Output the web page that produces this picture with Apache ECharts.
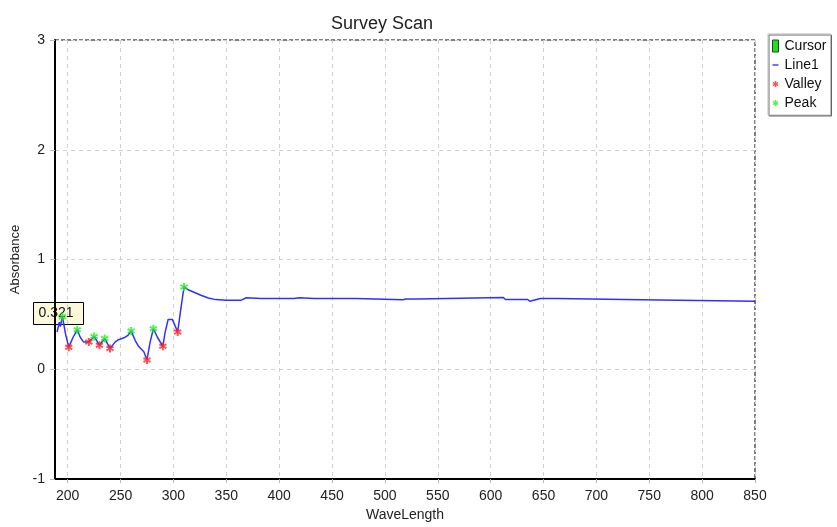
<!DOCTYPE html>
<html>
<head>
<meta charset="utf-8">
<script src="https://cdn.jsdelivr.net/npm/echarts@6/dist/echarts.min.js"></script>
<style>html,body{margin:0;padding:0;background:#fff}#c{width:837px;height:527px}</style>
</head>
<body>
<div id="c"></div>
<script>
const waveLength = [190,192,193,195,198,201,205,209,212,215,220,225,230,235,240,245,248,254,257,260,264,267,272,275,278,281,285,290,292,295,299,304,307,310,315,320,326,333,340,350,364,369,383,414,419,433,473,474,517,520,531,532,612,614,635,637,638,647,663,664,742,743,850];
const absorbance = [0.34,0.43,0.39,0.48,0.32,0.20,0.29,0.36,0.29,0.25,0.25,0.30,0.22,0.28,0.19,0.25,0.27,0.29,0.31,0.35,0.26,0.21,0.16,0.085,0.25,0.37,0.29,0.21,0.33,0.455,0.455,0.34,0.55,0.75,0.72,0.70,0.675,0.65,0.635,0.63,0.63,0.652,0.645,0.645,0.652,0.645,0.645,0.633,0.633,0.64,0.64,0.655,0.655,0.636,0.636,0.62,0.636,0.645,0.645,0.633,0.633,0.62,0.62];
const valleyX = [201,220,230,240,275,290,304];
const valleyY = [0.20,0.25,0.22,0.19,0.085,0.21,0.34];
const peakX = [195,209,225,235,260,281,310];
const peakY = [0.48,0.36,0.30,0.28,0.35,0.37,0.75];
const xTicks = [200,250,300,350,400,450,500,550,600,650,700,750,800,850];
const cursorText = '0.321';

const FONT = 'Arial, "Liberation Sans", sans-serif';
const STAR = 'path://M3,0 L5,0 L5,2.5 L7,1 L8,3 L5.5,4 L8,5 L7,7 L5,5.5 L5,8 L3,8 L3,5.5 L1,7 L0,5 L2.5,4 L0,3 L1,1 L3,2.5 Z';
const zip = (a, b) => a.map((v, i) => [v, b[i]]);

const chart = echarts.init(document.getElementById('c'));
chart.setOption({
  animation: false,
  title: { text: 'Survey Scan', left: 326, top: 10, textStyle: { fontSize: 18, fontWeight: 'normal', color: '#222', fontFamily: FONT } },
  grid: { left: 55, right: 82, top: 40, bottom: 47, show: true, borderColor: '#000', borderWidth: 1, borderType: [4, 2] },
  legend: {
    orient: 'vertical', left: 768, top: 34, padding: [5, 4, 5, 4],
    itemWidth: 6, itemHeight: 12, itemGap: 5,
    backgroundColor: '#fff', borderColor: '#bbb', borderWidth: 1,
    shadowColor: '#666', shadowOffsetX: 1, shadowOffsetY: 1, shadowBlur: 0,
    textStyle: { fontSize: 14, color: '#111', fontFamily: FONT, padding: [0, 0, 0, 1] },
    data: [
      { name: 'Cursor', icon: 'path://M0,0 L5,0 L5,10 L0,10 Z', itemStyle: { color: '#22dd22', borderColor: '#224422', borderWidth: 1 } },
      { name: 'Line1', icon: 'path://M0,0 L7,0 L7,1.6 L0,1.6 Z', itemStyle: { color: '#3030ff' } },
      { name: 'Valley', icon: STAR, itemStyle: { color: '#ff2222' } },
      { name: 'Peak', icon: STAR, itemStyle: { color: '#22ee22' } }
    ]
  },
  xAxis: {
    type: 'value', min: 188, max: 850,
    name: 'WaveLength', nameLocation: 'middle', nameGap: 28,
    nameTextStyle: { fontSize: 14, color: '#222', fontFamily: FONT },
    axisLine: { show: true, onZero: false, lineStyle: { color: '#000', width: 2 } },
    axisTick: { show: true, length: 4, customValues: xTicks, lineStyle: { color: '#bbb' } },
    axisLabel: { customValues: xTicks, fontSize: 14, color: '#222', fontFamily: FONT, margin: 10 },
    splitLine: { show: true, lineStyle: { color: '#d0d0d0', type: [4, 4] } }
  },
  yAxis: {
    type: 'value', min: -1, max: 3, interval: 1,
    name: 'Absorbance', nameLocation: 'middle', nameGap: 31,
    nameTextStyle: { fontSize: 13, color: '#222', fontFamily: FONT },
    axisLine: { show: true, onZero: false, lineStyle: { color: '#000', width: 2 } },
    axisTick: { show: true, length: 5, lineStyle: { color: '#bbb' } },
    axisLabel: { fontSize: 14, color: '#222', fontFamily: FONT, margin: 10 },
    splitLine: { show: true, lineStyle: { color: '#d0d0d0', type: [4, 4] } }
  },
  graphic: [{
    type: 'group', left: 33, top: 302, z: 1,
    children: [
      { type: 'rect', shape: { x: 0, y: 0, width: 50, height: 22 }, style: { fill: '#fbf8dc', stroke: '#000', lineWidth: 1 } },
      { type: 'text', x: 5, y: 11, style: { text: cursorText, fontSize: 14, fill: '#111', fontFamily: FONT, verticalAlign: 'middle' } }
    ]
  }],
  series: [
    { name: 'Cursor', type: 'line', data: [], itemStyle: { color: '#22dd22' } },
    { name: 'Line1', type: 'line', data: zip(waveLength, absorbance), showSymbol: false, lineStyle: { color: '#3030ff', width: 1.5 }, itemStyle: { color: '#3030ff' }, z: 3 },
    { name: 'Valley', type: 'scatter', data: zip(valleyX, valleyY), symbol: STAR, symbolSize: 8, itemStyle: { color: '#ff2222' }, z: 4 },
    { name: 'Peak', type: 'scatter', data: zip(peakX, peakY), symbol: STAR, symbolSize: 8, itemStyle: { color: '#22ee22' }, z: 4 }
  ]
});
</script>
</body>
</html>
